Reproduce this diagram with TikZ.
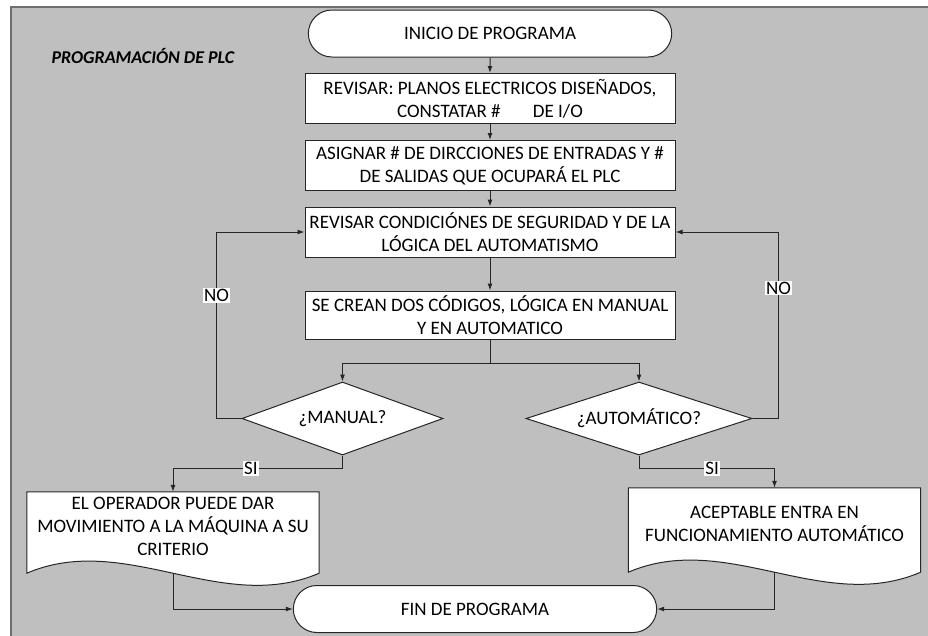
\documentclass[tikz,border=0pt]{standalone}
\usepackage{fontspec}
\setmainfont{Carlito}
\usetikzlibrary{shapes.geometric,shapes.misc,arrows.meta,backgrounds}
\definecolor{fondo}{HTML}{BFBFBF}
\definecolor{borde}{HTML}{6E6E6E}
\definecolor{linea}{HTML}{262626}
\begin{document}
\begin{tikzpicture}[x=1pt,y=-1pt,
    txt/.style={font=\fontsize{19}{23}\selectfont, text=black, align=center},
    proceso/.style={txt, draw=linea, fill=white, line width=1pt, rectangle, minimum width=370, minimum height=50, inner sep=2pt},
    terminal/.style={txt, draw=linea, fill=white, line width=1pt, rounded rectangle, minimum width=370, minimum height=47},
    decision/.style={txt, draw=linea, fill=white, line width=1pt, diamond, minimum height=73, inner sep=0pt},
    documento/.style={txt, rectangle, minimum width=292, minimum height=81, text depth=12pt},
    flecha/.style={draw=linea, line width=1pt, -{Latex[length=7pt,width=5pt]}},
    enlace/.style={draw=linea, line width=1pt},
    etiqueta/.style={font=\fontsize{19}{23}\selectfont, fill=white, inner sep=1pt}]
    \useasboundingbox (0,0) rectangle (928,635);
    \clip (0,0) rectangle (928,635);

    \begin{pgfonlayer}{background}
        \draw[fill=fondo, draw=borde, line width=1.5pt] (11,7) rectangle (950,660);
    \end{pgfonlayer}

    \node[anchor=base west, font=\fontsize{18}{22}\selectfont\bfseries\itshape] (titulo) at (48,63) {PROGRAMACIÓN DE PLC};

    \node[terminal] (inicio) at (490,33.5) {INICIO DE PROGRAMA};
    \node[proceso] (planos) at (490,98.5) {REVISAR: PLANOS ELECTRICOS DISEÑADOS,\\CONSTATAR \#\hspace{28pt} DE I/O};
    \node[proceso] (asignar) at (490,165.5) {ASIGNAR \# DE DIRCCIONES DE ENTRADAS Y \#\\DE SALIDAS QUE OCUPARÁ EL PLC};
    \node[proceso] (revisar) at (490,232) {REVISAR CONDICIÓNES DE SEGURIDAD Y DE LA\\LÓGICA DEL AUTOMATISMO};
    \node[proceso, minimum height=48] (codigos) at (490,315) {SE CREAN DOS CÓDIGOS, LÓGICA EN MANUAL\\Y EN AUTOMATICO};
    \coordinate (rama) at (490,363);

    \node[decision, aspect=2.75, minimum width=201] (manual) at (342.5,418.5) {¿MANUAL?};
    \node[decision, aspect=3.1, minimum width=226] (auto) at (639,418.5) {¿AUTOMÁTICO?};

    \node[documento] (operador) at (173,532.5) {EL OPERADOR PUEDE DAR\\MOVIMIENTO A LA MÁQUINA A SU\\CRITERIO};
    \node[documento, minimum height=84] (aceptable) at (774.5,530) {ACEPTABLE ENTRA EN\\FUNCIONAMIENTO AUTOMÁTICO};

    \node[terminal] (fin) at (475,609) {FIN DE PROGRAMA};

    % hojas onduladas detras del texto
    \begin{pgfonlayer}{background}
        \foreach \d in {operador,aceptable}
            \draw[draw=linea, fill=white, line width=1pt] (\d.north west) -- (\d.north east) -- (\d.south east)
                .. controls ([xshift=-98pt,yshift=-42pt]\d.south east) and ([xshift=98pt,yshift=42pt]\d.south west) .. (\d.south west) -- cycle;
    \end{pgfonlayer}

    \path[flecha] (inicio) -- (planos);
    \path[flecha] (planos) -- (asignar);
    \path[flecha] (asignar) -- (revisar);
    \path[flecha] (revisar) -- (codigos);
    \path[enlace] (codigos) -- (rama);
    \path[flecha] (rama) -| (manual);
    \path[flecha] (rama) -| (auto);

    \path[flecha] (manual.west) -- ++(-25,0) |- node[etiqueta, pos=0.33] {NO} (revisar.west);
    \path[flecha] (auto.east) -- ++(26,0) |- node[etiqueta, pos=0.35] {NO} (revisar.east);

    \path[flecha] (manual.south) -- ++(0,13) -| node[etiqueta, pos=0.27] {SI} (operador.north);
    \path[flecha] (auto.south) -- ++(0,13) -| node[etiqueta, pos=0.27] {SI} (aceptable.north);

    \path[flecha] (operador.south) |- (fin.west);
    \path[flecha] (aceptable.south) |- (fin.east);
\end{tikzpicture}
\end{document}
